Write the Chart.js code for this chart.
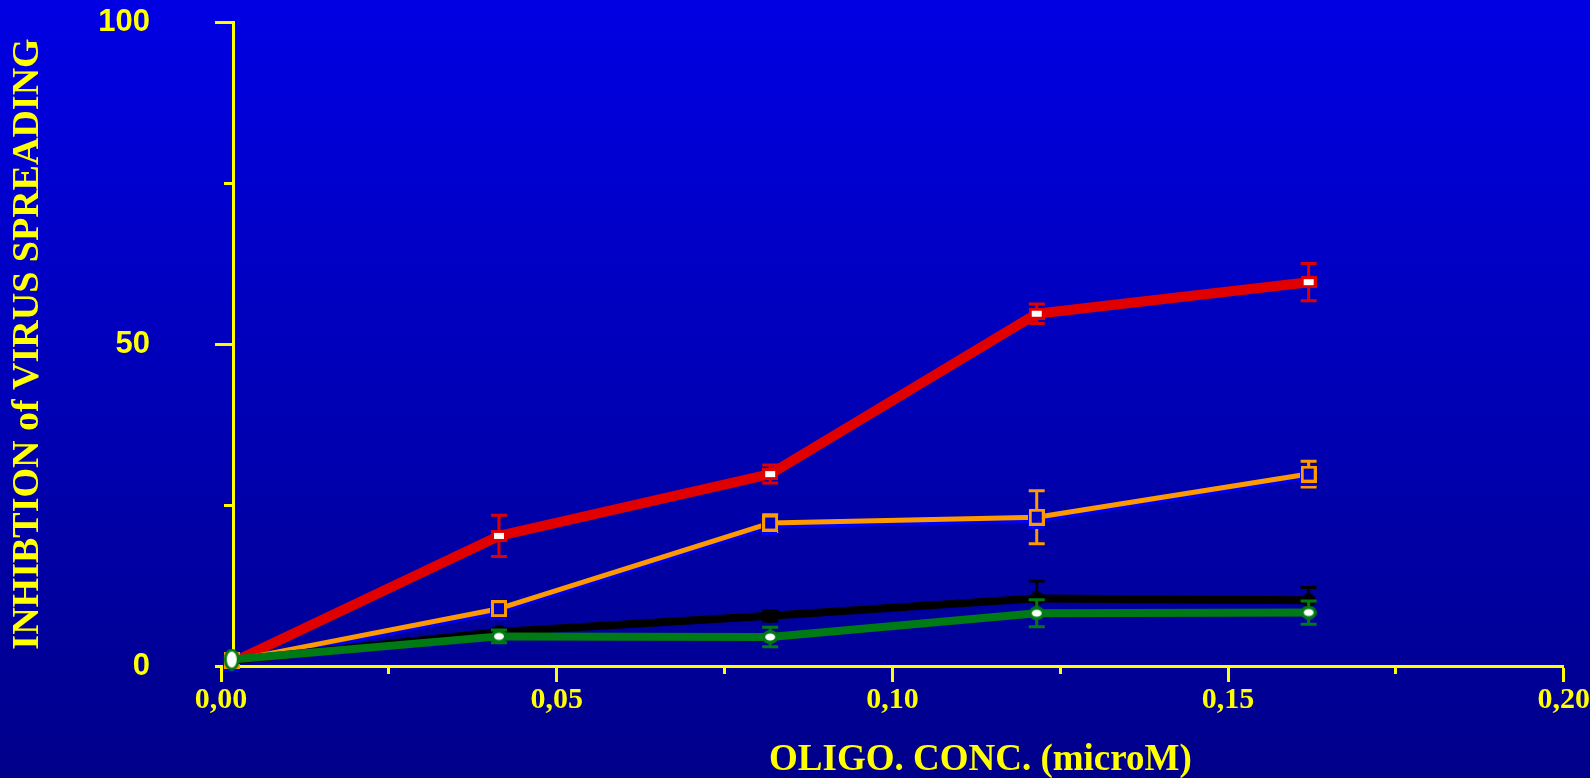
<!DOCTYPE html>
<html><head><meta charset="utf-8">
<script src="https://cdn.jsdelivr.net/npm/chart.js@4.4.1/dist/chart.umd.min.js"></script>
<style>html,body{margin:0;padding:0;background:#0000b0;overflow:hidden}#wrap{width:1590px;height:778px;position:relative}</style>
</head><body><div id="wrap"><canvas id="c"></canvas></div>
<script>
// ---- data ----
const concentrations = [0.0016, 0.0414, 0.0818, 0.1215, 0.162];
const redValues    = [0.5, 20.2, 29.8, 54.7, 59.6];
const redErrors    = [0, 3.2, 1.4, 1.5, 2.9];
const orangeValues = [0.8, 8.9, 22.2, 23.1, 29.8];
const orangeErrors = [0, 0.8, 1.3, 4.1, 2.0];
const blackValues  = [0.8, 5.3, 7.8, 10.5, 10.2];
const blackErrors  = [0, 0.5, 0.8, 2.7, 2.0];
const greenValues  = [1.0, 4.6, 4.5, 8.2, 8.3];
const greenErrors  = [0, 1.0, 1.5, 2.1, 1.8];
const xMajorTicks = [0, 0.05, 0.10, 0.15, 0.20];
const xMinorTicks = [0.025, 0.075, 0.125, 0.175];
const yMajorTicks = [0, 50, 100];
const yMinorTicks = [25, 75];
const yAxisCross = 0.0019;
const xTitle = 'OLIGO. CONC. (microM)';
const yTitle = 'INHIBTION of VIRUS SPREADING';

const YELLOW = '#ffff00';
const pts = vals => vals.map((v, i) => ({x: concentrations[i], y: v}));

function marker(w, h, draw) {
  const c = document.createElement('canvas'); c.width = w; c.height = h;
  draw(c.getContext('2d'), w, h); return c;
}
const ell = (g, cx, cy, rx, ry) => { g.beginPath(); g.ellipse(cx, cy, rx, ry, 0, 0, Math.PI * 2); g.fill(); };
const redMarker = marker(16, 12, (g, w, h) => { g.fillStyle = '#e00000'; g.fillRect(0, 0, w, h); g.fillStyle = '#fff'; g.fillRect(3, 3, w - 6, h - 6); });
const orangeMarker = marker(16, 17, (g, w, h) => { g.fillStyle = '#ff9900'; g.fillRect(0, 0, w, h); g.fillStyle = '#0000c0'; g.fillRect(3, 3, w - 6, h - 6); });
const blackMarker = marker(14, 14, (g) => { g.fillStyle = '#000'; ell(g, 7, 7, 7, 7); });
const greenMarker = marker(16, 14, (g) => { g.fillStyle = '#007a14'; ell(g, 8, 7, 8, 7); g.fillStyle = '#fff'; ell(g, 8, 7, 5, 3.5); });
const greenStart = marker(16, 22, (g) => { g.fillStyle = '#007a14'; ell(g, 8, 11, 8, 11); g.fillStyle = '#fff'; ell(g, 8, 11, 5, 8); });

const bgPlugin = {
  id: 'bg',
  beforeDraw(chart) {
    const {ctx, width, height} = chart;
    const gr = ctx.createLinearGradient(0, 0, 0, height);
    gr.addColorStop(0, 'rgb(0,0,228)');
    gr.addColorStop(1, 'rgb(0,0,138)');
    ctx.save(); ctx.fillStyle = gr; ctx.fillRect(0, 0, width, height); ctx.restore();
  }
};

const errPlugin = {
  id: 'errbars',
  beforeDatasetDraw(chart, args) {
    const ds = chart.data.datasets[args.index];
    const x = chart.scales.x, y = chart.scales.y;
    const ctx = chart.ctx;
    if (ds.errors) {
      ctx.save();
      ctx.strokeStyle = ds.borderColor; ctx.lineWidth = 3;
      ds.data.forEach((p, i) => {
        const e = ds.errors[i]; if (!e) return;
        const px = x.getPixelForValue(p.x);
        const t = y.getPixelForValue(p.y + e), b = y.getPixelForValue(p.y - e);
        ctx.beginPath();
        ctx.moveTo(px, t); ctx.lineTo(px, b);
        ctx.moveTo(px - 8, t); ctx.lineTo(px + 8, t);
        ctx.moveTo(px - 8, b); ctx.lineTo(px + 8, b);
        ctx.stroke();
      });
      ctx.restore();
    }
    if (ds.shadow) {
      ctx.save();
      ctx.shadowColor = ds.shadow; ctx.shadowOffsetX = -1; ctx.shadowOffsetY = 3; ctx.shadowBlur = 0;
    }
  },
  afterDatasetDraw(chart, args) {
    const ds = chart.data.datasets[args.index];
    if (ds.shadow) chart.ctx.restore();
  }
};

const xTitlePlugin = {
  id: 'xtitle',
  afterDraw(chart) {
    const {ctx, chartArea} = chart;
    ctx.save();
    ctx.fillStyle = YELLOW;
    ctx.font = 'bold 37px "Liberation Serif"';
    ctx.textAlign = 'center'; ctx.textBaseline = 'alphabetic';
    ctx.fillText(xTitle, (chartArea.left + chartArea.right) / 2 + 88, 770);
    ctx.restore();
  }
};

const fmtX = v => Number(v).toFixed(2).replace('.', ',');

new Chart(document.getElementById('c'), {
  type: 'line',
  data: {
    datasets: [
      {label: 'red', data: pts(redValues), errors: redErrors, borderColor: '#e00000', borderWidth: 10,
       pointStyle: redMarker, pointRadius: 6, order: 3, clip: false, xAxisID: 'x', yAxisID: 'y'},
      {label: 'orange', data: pts(orangeValues), errors: orangeErrors, borderColor: '#ff9900', borderWidth: 5,
       shadow: '#0000f0', pointStyle: orangeMarker, pointRadius: 6, order: 2, clip: false, xAxisID: 'x', yAxisID: 'y'},
      {label: 'black', data: pts(blackValues), errors: blackErrors, borderColor: '#000000', borderWidth: 8,
       pointStyle: blackMarker, pointRadius: 6, order: 1, clip: false, xAxisID: 'x', yAxisID: 'y'},
      {label: 'green', data: pts(greenValues), errors: greenErrors, borderColor: '#007a14', borderWidth: 8,
       pointStyle: ctx => ctx.dataIndex === 0 ? greenStart : greenMarker, pointRadius: 6, order: 0, clip: false, xAxisID: 'x', yAxisID: 'y'}
    ]
  },
  options: {
    responsive: true, maintainAspectRatio: false, devicePixelRatio: 1, animation: false,
    layout: {padding: {left: 0, right: 26, top: 22, bottom: 0}},
    plugins: {legend: {display: false}, tooltip: {enabled: false}},
    elements: {line: {tension: 0, borderCapStyle: 'butt', borderJoinStyle: 'round'}},
    scales: {
      x: {
        type: 'linear', position: 'bottom', min: 0, max: 0.2,
        afterBuildTicks: s => { s.ticks = xMajorTicks.map(v => ({value: v})); },
        afterFit: s => { s.height = 112; },
        ticks: {color: YELLOW, font: {family: 'Liberation Serif', weight: 'bold', size: 30}, padding: 0,
                maxRotation: 0, autoSkip: false, callback: v => fmtX(v)},
        grid: {drawOnChartArea: false, tickLength: 16, tickWidth: 3, tickColor: YELLOW},
        border: {color: YELLOW, width: 3}
      },
      x2: {
        type: 'linear', axis: 'x', position: {y: 0}, min: 0, max: 0.2,
        afterBuildTicks: s => { s.ticks = xMinorTicks.map(v => ({value: v})); },
        afterFit: s => { s.height = 0; },
        ticks: {display: false},
        grid: {drawOnChartArea: false, tickLength: 8, tickWidth: 3, tickColor: YELLOW},
        border: {display: false}
      },
      y: {
        type: 'linear', position: 'left', min: 0, max: 100,
        afterBuildTicks: s => { s.ticks = yMajorTicks.map(v => ({value: v})); },
        afterFit: s => { s.width = 221; },
        ticks: {color: YELLOW, font: {family: 'Liberation Sans', weight: 'bold', size: 31}, padding: 0},
        grid: {display: false, drawTicks: true, tickLength: 71},
        border: {display: false},
        title: {display: true, text: yTitle, color: YELLOW, padding: {top: 5, bottom: 0},
                font: {family: 'Liberation Serif', weight: 'bold', size: 38}}
      },
      y2: {
        type: 'linear', axis: 'y', position: {x: yAxisCross}, min: 0, max: 100,
        afterBuildTicks: s => { s.ticks = yMajorTicks.map(v => ({value: v})); },
        afterFit: s => { s.width = 0; },
        ticks: {display: false},
        grid: {drawOnChartArea: false, tickLength: 17, tickWidth: 3, tickColor: YELLOW},
        border: {color: YELLOW, width: 3}
      },
      y3: {
        type: 'linear', axis: 'y', position: {x: yAxisCross}, min: 0, max: 100,
        afterBuildTicks: s => { s.ticks = yMinorTicks.map(v => ({value: v})); },
        afterFit: s => { s.width = 0; },
        ticks: {display: false},
        grid: {drawOnChartArea: false, tickLength: 10, tickWidth: 3, tickColor: YELLOW},
        border: {display: false}
      }
    }
  },
  plugins: [bgPlugin, errPlugin, xTitlePlugin]
});
</script>
</body></html>
